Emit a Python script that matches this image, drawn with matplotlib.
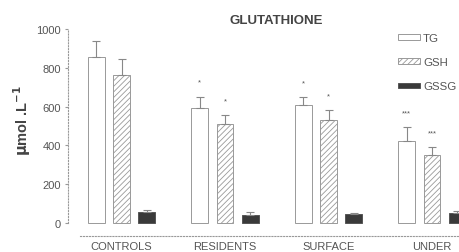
import matplotlib
matplotlib.use("Agg")
import matplotlib.pyplot as plt
import numpy as np

categories = ["CONTROLS", "RESIDENTS", "SURFACE", "UNDER"]
series = ["TG", "GSH", "GSSG"]
tg = [856, 593, 607, 421]
tg_err = [81, 58, 41, 72]
gsh = [761, 510, 531, 351]
gsh_err = [83, 45, 51, 39]
gssg = [58, 43, 46, 52]
gssg_err = [11, 12, 7, 10]
tg_sig = ["", "*", "*", "***"]
gsh_sig = ["", "*", "*", "***"]
yticks = [0, 200, 400, 600, 800, 1000]

plt.rcParams['font.family'] = ['Liberation Sans', 'DejaVu Sans']
plt.rcParams['hatch.linewidth'] = 0.6

W, H = 460, 253
fig = plt.figure(figsize=(W/100, H/100), dpi=100)
px_per_unit = 103.5
x0 = -0.517
x1 = 3.4
ymin, ymax = -80, 1000
ppv = 0.194
left = 68
bottom_px = 29 + ymin*ppv
ax_w = (x1-x0)*px_per_unit
ax_h = (ymax-ymin)*ppv
ax = fig.add_axes([left/W, bottom_px/H, ax_w/W, ax_h/H])
ax.set_xlim(x0, x1)
ax.set_ylim(ymin, ymax)

txt = "#555555"
x = np.arange(len(categories))
off = 0.246
bw = 0.164
ekw = dict(ecolor="#888888", elinewidth=0.8, capsize=3, capthick=0.8)
ax.bar(x-off, tg, bw, color="white", edgecolor="#999999", linewidth=0.7,
       yerr=[np.zeros(4), tg_err], error_kw=ekw, label="TG")
ax.bar(x, gsh, bw, color="white", edgecolor="#999999", hatch="//////", linewidth=0.7,
       yerr=[np.zeros(4), gsh_err], error_kw=ekw, label="GSH")
ax.bar(x+off, gssg, bw, color="#3a3a3a", edgecolor="#555555", linewidth=0.7,
       yerr=[np.zeros(4), gssg_err], error_kw=ekw, label="GSSG")

for i in range(4):
    if tg_sig[i]:
        ax.annotate(tg_sig[i], (x[i]-off, tg[i]+tg_err[i]), xytext=(0, 8),
                    textcoords="offset points", ha="center", va="bottom", fontsize=5.5, color=txt)
    if gsh_sig[i]:
        ax.annotate(gsh_sig[i], (x[i], gsh[i]+gsh_err[i]), xytext=(0, 8),
                    textcoords="offset points", ha="center", va="bottom", fontsize=5.5, color=txt)

for s in ["top", "right"]:
    ax.spines[s].set_visible(False)
ax.spines["left"].set_bounds(0, 1000)
ax.spines["left"].set_linestyle(":")
ax.spines["left"].set_color("#999999")
ax.spines["left"].set_linewidth(0.8)
ax.spines["bottom"].set_position(("data", -67))
ax.spines["bottom"].set_bounds(-0.40, x1)
ax.spines["bottom"].set_linestyle(":")
ax.spines["bottom"].set_color("#999999")
ax.spines["bottom"].set_linewidth(0.8)

ax.set_yticks(yticks)
ax.set_yticklabels([str(v) for v in yticks])
ax.tick_params(axis="y", length=2, color="#999999", labelsize=8, labelcolor=txt, pad=3)
ax.set_xticks(x)
ax.set_xticklabels(categories)
ax.tick_params(axis="x", length=0, labelsize=8, labelcolor=txt, pad=3.5)

ax.set_ylabel(r"$\mathbf{\mu}$mol .L$^{\mathbf{-1}}$", fontsize=10.5, fontweight="bold", color="#444444")
ax.yaxis.set_label_coords((33-left)/ax_w, (536-ymin)/(ymax-ymin))
fig.text(276/W, 1-20.5/H, "GLUTATHIONE", ha="center", va="center", fontsize=9.5, fontweight="bold", color="#444444")

leg = ax.legend(loc="upper left", bbox_to_anchor=((398-left)/ax_w, (H-34-bottom_px)/ax_h),
                frameon=False, fontsize=8.2, handlelength=1.9, handleheight=0.4,
                labelspacing=1.25, handletextpad=0.3, borderpad=0, borderaxespad=0)
for t in leg.get_texts():
    t.set_color(txt)

fig.savefig("out.png", dpi=100)
